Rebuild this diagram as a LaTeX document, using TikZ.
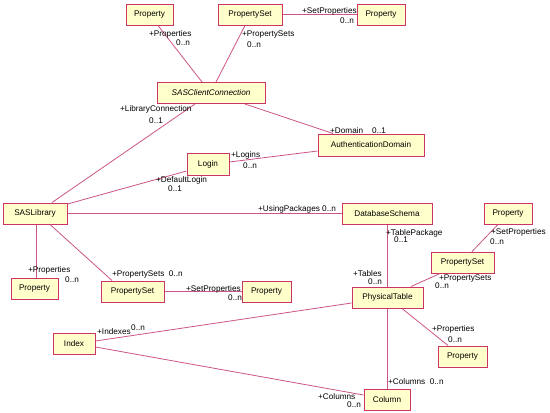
\documentclass[tikz,border=0pt]{standalone}
\usepackage{fontspec}
\setmainfont{Liberation Sans}
\begin{document}
\definecolor{boxfill}{RGB}{255,255,204}
\definecolor{boxline}{RGB}{204,51,102}
\definecolor{linkline}{RGB}{204,85,136}
\begin{tikzpicture}[x=1pt,y=-1pt,
  box/.style={draw=boxline,fill=boxfill,line width=1pt,inner sep=0pt,minimum height=21pt,font=\fontsize{8.2}{10}\selectfont},
  link/.style={draw=linkline,line width=0.8pt},
  lbl/.style={anchor=base west,inner sep=0pt,font=\fontsize{8.2}{10}\selectfont}]
\useasboundingbox[fill=white] (0,0) rectangle (550,413);
% boxes
\node[box,minimum width=47pt] (propTL) at (149.5,14.5) {Property};
\node[box,minimum width=64pt] (psetT) at (250,14.5) {PropertySet};
\node[box,minimum width=48pt] (propTR) at (381,14.5) {Property};
\node[box,minimum width=108pt] (scc) at (211,93) {\itshape SASClientConnection};
\node[box,minimum width=106pt,minimum height=22pt] (auth) at (371,145) {AuthenticationDomain};
\node[box,minimum width=42pt,minimum height=22pt] (login) at (208,164) {Login};
\node[box,minimum width=64pt] (saslib) at (35,213.5) {SASLibrary};
\node[box,minimum width=90pt] (dbs) at (387,213.5) {DatabaseSchema};
\node[box,minimum width=48pt] (propR) at (508,213.5) {Property};
\node[box,minimum width=63pt] (psetR) at (462.5,262.5) {PropertySet};
\node[box,minimum width=71pt] (ptab) at (387.5,297.5) {PhysicalTable};
\node[box,minimum width=47pt] (propBL) at (34.5,288.5) {Property};
\node[box,minimum width=63pt] (psetM) at (132.5,291.5) {PropertySet};
\node[box,minimum width=49pt] (propM) at (266.5,291.5) {Property};
\node[box,minimum width=42pt] (index) at (74,343.5) {Index};
\node[box,minimum width=49pt] (propBR) at (462.5,356.5) {Property};
\node[box,minimum width=46pt] (column) at (387,399.5) {Column};
% connectors
\begin{scope}[on background layer/.style={}]
\draw[link] ([xshift=8.5pt]propTL.south) -- ([xshift=-9pt]scc.north);
\draw[link] ([xshift=-5pt]psetT.south) -- ([xshift=5pt]scc.north);
\draw[link] (psetT.east) -- (propTR.west);
\draw[link] ([xshift=-16pt]scc.south) -- ([xshift=17pt]saslib.north);
\draw[link] ([xshift=34pt]scc.south) -- ([xshift=-38pt]auth.north);
\draw[link] ([yshift=2pt]login.east) -- ([yshift=-6pt]auth.west);
\draw[link] ([yshift=9.5pt]saslib.east) -- ([yshift=-7pt]login.west);
\draw[link] (saslib.east) -- (dbs.west);
\draw[link] ([xshift=1pt]saslib.south) -- ([xshift=1.5pt]propBL.north);
\draw[link] ([xshift=15pt]saslib.south) -- ([xshift=-20.5pt]psetM.north);
\draw[link] (psetM.east) -- (propM.west);
\draw[link] ([xshift=0.5pt]dbs.south) -- (ptab.north);
\draw[link] ([xshift=-10pt]propR.south) -- ([xshift=9.5pt]psetR.north);
\draw[link] ([xshift=-22.5pt]psetR.south) -- ([xshift=23.5pt]ptab.north);
\draw[link] ([yshift=-5.5pt]ptab.west) -- ([yshift=2.5pt]index.east);
\draw[link] (ptab.south) -- ([xshift=0.5pt]column.north);
\draw[link] ([xshift=14.5pt]ptab.south) -- ([xshift=-14.5pt]propBR.north);
\draw[link] ([yshift=-3.5pt]index.east) -- ([yshift=4.5pt]column.west);
\end{scope}
% labels
\node[lbl] (l1) at (149,36) {+Properties};
\node[lbl] (l2) at (176,45) {0..n};
\node[lbl] (l3) at (242,36) {+PropertySets};
\node[lbl] (l4) at (247,47) {0..n};
\node[lbl] (l5) at (302,13) {+SetProperties};
\node[lbl] (l6) at (340,23) {0..n};
\node[lbl] (l7) at (120,111) {+LibraryConnection};
\node[lbl] (l8) at (149,123) {0..1};
\node[lbl] (l9) at (330,133) {+Domain};
\node[lbl] (l10) at (372,133) {0..1};
\node[lbl] (l11) at (231,157) {+Logins};
\node[lbl] (l12) at (243,168) {0..n};
\node[lbl] (l13) at (156,182) {+DefaultLogin};
\node[lbl] (l14) at (168,191) {0..1};
\node[lbl] (l15) at (258,211) {+UsingPackages 0..n};
\node[lbl] (l16) at (386,235) {+TablePackage};
\node[lbl] (l17) at (394,242) {0..1};
\node[lbl] (l18) at (491,234) {+SetProperties};
\node[lbl] (l19) at (490,244) {0..n};
\node[lbl] (l20) at (353,276) {+Tables};
\node[lbl] (l21) at (368,284) {0..n};
\node[lbl] (l22) at (439,280) {+PropertySets};
\node[lbl] (l23) at (435,288) {0..n};
\node[lbl] (l24) at (28,272) {+Properties};
\node[lbl] (l25) at (65,282) {0..n};
\node[lbl] (l26) at (112,276) {+PropertySets\ \ 0..n};
\node[lbl] (l27) at (186,291) {+SetProperties};
\node[lbl] (l28) at (228,300) {0..n};
\node[lbl] (l29) at (97,334) {+Indexes};
\node[lbl] (l30) at (131,330) {0..n};
\node[lbl] (l31) at (432,331) {+Properties};
\node[lbl] (l32) at (448,342) {0..n};
\node[lbl] (l33) at (388,384) {+Columns\ \ 0..n};
\node[lbl] (l34) at (318,399) {+Columns};
\node[lbl] (l35) at (347,407) {0..n};
\end{tikzpicture}
\end{document}
